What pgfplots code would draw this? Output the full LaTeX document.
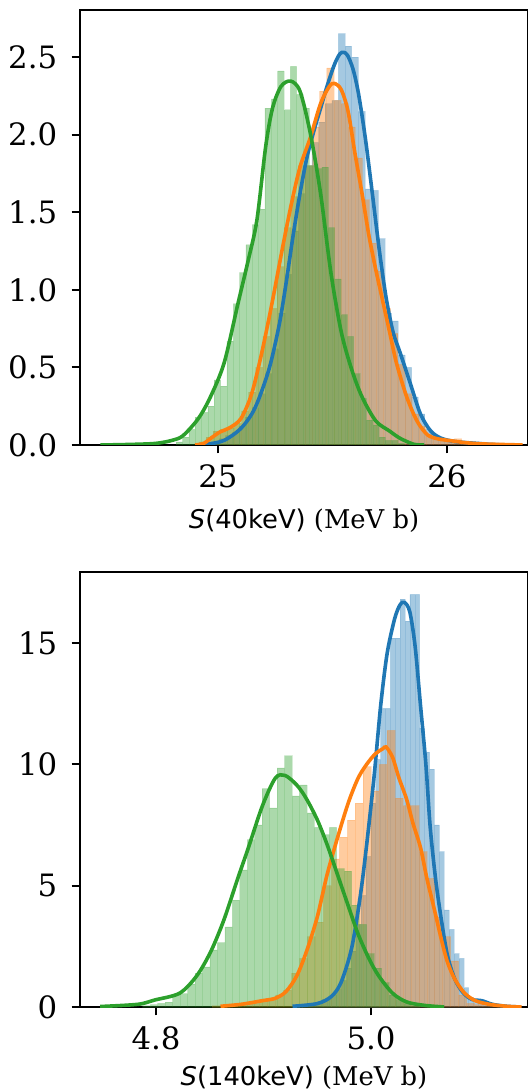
\documentclass[border=0pt]{standalone}
\usepackage{fontspec}
\setmainfont{DejaVu Serif}
\newfontfamily\dvsans{DejaVu Sans}
\usepackage{pgfplots}
\pgfplotsset{compat=1.18}
\definecolor{c0}{RGB}{31,119,180}
\definecolor{c1}{RGB}{255,127,14}
\definecolor{c2}{RGB}{44,160,44}
\pgfplotsset{
  distax/.style={
    scale only axis, width=224pt, height=217.5pt,
    tick align=outside, major tick length=4.2pt,
    tick style={line width=0.95pt, black},
    axis line style={line width=0.95pt},
    tick pos=left,
    ticklabel style={font=\fontsize{15.4}{18}\selectfont},
    xticklabel style={inner sep=0pt, anchor=north, yshift=-5.5pt},
    yticklabel style={inner sep=0pt, anchor=east, xshift=-7pt},
    label style={font=\fontsize{12.9}{15}\selectfont},
    xlabel style={at={(axis description cs:0.5,0)}, anchor=base},
  },
  hist/.style={ybar interval, fill=#1, fill opacity=0.4, draw=#1, draw opacity=0.15, line width=0.3pt},
  kde/.style={smooth, line width=1.8pt, color=#1, mark=none},
}
\begin{document}
\begin{tikzpicture}
\useasboundingbox (0,0) rectangle (264pt,546pt);

% S(40keV)
\begin{axis}[distax, at={(40pt,323.5pt)}, anchor=south west,
  xmin=24.3974, xmax=26.3537, ymin=0, ymax=2.803,
  xtick={25,26}, xticklabels={25,26},
  ytick={0,0.5,1,1.5,2,2.5}, yticklabels={0.0,0.5,1.0,1.5,2.0,2.5},
  xlabel style={yshift=-42pt},
  xlabel={{\dvsans\itshape S}{\dvsans(40keV)} (MeV b)}]
% histograms (patches sit below the lines)
\addplot[hist=c0] coordinates {
 (24.946,0.01) (24.975,0.02) (25.004,0.04) (25.033,0.06) (25.062,0.08) (25.091,0.12)
 (25.120,0.18) (25.149,0.24) (25.178,0.33) (25.207,0.46) (25.236,0.62) (25.265,0.85)
 (25.294,1.10) (25.323,1.38) (25.352,1.62) (25.381,1.80) (25.410,1.95) (25.439,2.08)
 (25.468,2.20) (25.497,2.22) (25.526,2.65) (25.555,2.57) (25.584,2.50) (25.613,2.15)
 (25.642,1.65) (25.671,1.64) (25.700,1.33) (25.729,0.85) (25.758,0.80) (25.787,0.58)
 (25.816,0.50) (25.845,0.31) (25.874,0.20) (25.903,0.10) (25.932,0.06) (25.961,0.04)
 (25.990,0.03) (26.019,0.02) (26.048,0.01) (26.077,0.01) (26.106,0.01) (26.135,0.02)
 (26.164,0.01) (26.193,0)};
\addplot[hist=c1] coordinates {
 (24.917,0.02) (24.948,0.05) (24.979,0.09) (25.010,0.10) (25.041,0.11) (25.072,0.14)
 (25.103,0.22) (25.134,0.34) (25.165,0.50) (25.196,0.70) (25.227,0.88) (25.258,1.15)
 (25.289,1.40) (25.320,1.60) (25.351,1.80) (25.382,1.80) (25.413,2.05) (25.444,2.28)
 (25.475,2.43) (25.506,2.22) (25.537,2.20) (25.568,2.05) (25.599,1.85) (25.630,1.58)
 (25.661,1.30) (25.692,1.12) (25.723,0.88) (25.754,0.72) (25.785,0.52) (25.816,0.33)
 (25.847,0.20) (25.878,0.12) (25.909,0.07) (25.940,0.05) (25.971,0.04) (26.002,0.03)
 (26.033,0.04) (26.064,0.02) (26.095,0.01) (26.126,0.01) (26.157,0.01) (26.188,0.005)
 (26.219,0)};
\addplot[hist=c2] coordinates {
 (24.817,0.02) (24.845,0.05) (24.873,0.10) (24.900,0.18) (24.928,0.21) (24.956,0.25)
 (24.983,0.42) (25.011,0.38) (25.039,0.67) (25.067,0.91) (25.094,1.11) (25.122,1.29)
 (25.150,1.42) (25.177,1.52) (25.205,2.17) (25.233,2.23) (25.260,2.41) (25.288,2.16)
 (25.316,2.44) (25.343,2.26) (25.371,2.17) (25.399,1.80) (25.426,1.78) (25.454,1.79)
 (25.482,1.40) (25.509,1.07) (25.537,0.84) (25.565,0.70) (25.592,0.46) (25.620,0.30)
 (25.648,0.16) (25.676,0.13) (25.703,0.05) (25.731,0.03) (25.759,0.03) (25.786,0.01)
 (25.814,0)};
% kde curves
\addplot[kde=c0] coordinates {
 (24.90,0) (24.952,0.005) (25.027,0.03) (25.102,0.11) (25.162,0.24) (25.223,0.49)
 (25.268,0.78) (25.298,1.05) (25.328,1.35) (25.358,1.62) (25.388,1.85) (25.418,2.02)
 (25.448,2.17) (25.478,2.32) (25.508,2.45) (25.532,2.52) (25.549,2.53) (25.566,2.51)
 (25.590,2.42) (25.614,2.26) (25.644,1.97) (25.674,1.62) (25.704,1.26) (25.734,0.95)
 (25.764,0.73) (25.794,0.60) (25.839,0.40) (25.884,0.20) (25.929,0.09) (25.974,0.044)
 (26.035,0.022) (26.125,0.011) (26.185,0.004) (26.25,0)};
\addplot[kde=c1] coordinates {
 (24.90,0) (24.937,0.01) (24.97,0.045) (25.01,0.085) (25.05,0.11) (25.10,0.17)
 (25.147,0.33) (25.192,0.60) (25.238,0.93) (25.283,1.28) (25.32,1.55) (25.358,1.79)
 (25.403,1.98) (25.448,2.20) (25.486,2.31) (25.508,2.33) (25.538,2.29) (25.568,2.15)
 (25.598,1.88) (25.629,1.62) (25.659,1.35) (25.689,1.13) (25.719,0.93) (25.749,0.73)
 (25.779,0.53) (25.824,0.31) (25.869,0.155) (25.914,0.066) (25.959,0.04) (26.02,0.027)
 (26.08,0.015) (26.155,0.007) (26.33,0)};
\addplot[kde=c2] coordinates {
 (24.486,0) (24.60,0.003) (24.726,0.01) (24.80,0.03) (24.847,0.06) (24.914,0.17)
 (24.967,0.31) (25.027,0.53) (25.087,0.91) (25.132,1.19) (25.17,1.45) (25.208,1.92)
 (25.238,2.17) (25.275,2.31) (25.317,2.345) (25.358,2.28) (25.403,2.01) (25.448,1.62)
 (25.493,1.11) (25.538,0.73) (25.583,0.49) (25.629,0.31) (25.689,0.155) (25.749,0.09)
 (25.794,0.044) (25.854,0.005) (25.9,0)};
\end{axis}

% S(140keV)
\begin{axis}[distax, at={(40pt,42.5pt)}, anchor=south west,
  xmin=4.7293, xmax=5.1460, ymin=0, ymax=17.92,
  xtick={4.8,5.0}, xticklabels={4.8,5.0},
  ytick={0,5,10,15}, yticklabels={0,5,10,15},
  xlabel style={yshift=-39pt},
  xlabel={{\dvsans\itshape S}{\dvsans(140keV)} (MeV b)}]
\addplot[hist=c0] coordinates {
 (4.9361,0.1) (4.9407,0.1) (4.9452,0.15) (4.9498,0.2) (4.9543,0.3) (4.9589,0.35)
 (4.9634,0.5) (4.9680,0.75) (4.9725,1.1) (4.9771,1.6) (4.9816,2.3) (4.9862,3.4)
 (4.9907,4.6) (4.9953,6.2) (4.9998,8.4) (5.0044,10.2) (5.0089,12.3) (5.0135,12.3)
 (5.0180,15.2) (5.0226,15.2) (5.0271,16.8) (5.0317,15.9) (5.0362,17.0) (5.0408,17.0)
 (5.0453,11.5) (5.0499,10.5) (5.0544,9.8) (5.0590,7.5) (5.0635,6.4) (5.0681,4.0)
 (5.0726,3.2) (5.0772,2.2) (5.0817,2.0) (5.0863,0.8) (5.0908,0.4) (5.0954,0.3)
 (5.0999,0.3) (5.1045,0.25) (5.1090,0.1) (5.1136,0.05) (5.1181,0.03) (5.1227,0)};
\addplot[hist=c1] coordinates {
 (4.8520,0.05) (4.8595,0.05) (4.8669,0.1) (4.8743,0.1) (4.8817,0.15) (4.8891,0.2)
 (4.8965,0.3) (4.9039,0.35) (4.9113,0.5) (4.9187,0.7) (4.9261,1.4) (4.9335,2.0)
 (4.9409,2.9) (4.9483,3.5) (4.9557,5.0) (4.9631,6.1) (4.9705,7.0) (4.9779,7.7)
 (4.9853,8.4) (4.9927,9.9) (5.0001,8.9) (5.0075,10.0) (5.0149,11.4) (5.0223,8.6)
 (5.0297,8.3) (5.0371,8.3) (5.0445,6.4) (5.0519,5.3) (5.0593,3.7) (5.0667,2.9)
 (5.0741,1.9) (5.0815,0.5) (5.0889,0.15) (5.0963,0.1) (5.1037,0.05) (5.1111,0.03)
 (5.1185,0)};
\addplot[hist=c2] coordinates {
 (4.7877,0.05) (4.7947,0.1) (4.8016,0.15) (4.8085,0.2) (4.8155,0.5) (4.8224,0.55)
 (4.8293,0.95) (4.8363,1.4) (4.8432,1.65) (4.8502,2.35) (4.8571,2.65) (4.8640,3.3)
 (4.8710,4.4) (4.8779,5.65) (4.8849,6.9) (4.8918,7.5) (4.8987,9.0) (4.9057,8.2)
 (4.9126,9.85) (4.9196,10.35) (4.9265,8.7) (4.9334,9.15) (4.9404,8.0) (4.9473,7.4)
 (4.9542,7.1) (4.9612,7.4) (4.9681,5.7) (4.9751,5.6) (4.9820,4.2) (4.9889,3.4)
 (4.9959,2.2) (5.0028,1.6) (5.0098,1.0) (5.0167,0.5) (5.0236,0.3) (5.0306,0.15)
 (5.0375,0.05) (5.0445,0)};
\addplot[kde=c0] coordinates {
 (4.927,0.03) (4.950,0.14) (4.963,0.43) (4.972,1.0) (4.982,2.43) (4.990,4.57)
 (4.996,6.71) (5.003,9.57) (5.009,12.43) (5.015,14.57) (5.022,16.0) (5.027,16.57)
 (5.031,16.67) (5.036,16.29) (5.041,14.86) (5.046,12.43) (5.051,10.0) (5.055,7.43)
 (5.060,5.29) (5.065,3.71) (5.071,2.14) (5.078,1.14) (5.086,0.57) (5.094,0.31)
 (5.103,0.26) (5.113,0.11) (5.126,0.03) (5.139,0)};
\addplot[kde=c1] coordinates {
 (4.860,0.03) (4.879,0.11) (4.899,0.26) (4.911,0.36) (4.921,0.64) (4.931,1.29)
 (4.940,2.29) (4.950,3.71) (4.959,5.43) (4.969,7.0) (4.979,8.43) (4.988,9.43)
 (4.996,10.0) (5.004,10.43) (5.011,10.64) (5.014,10.71) (5.020,10.29) (5.026,9.43)
 (5.033,8.57) (5.039,7.57) (5.046,6.57) (5.052,5.29) (5.059,4.0) (5.065,2.86)
 (5.071,1.86) (5.078,1.14) (5.087,0.57) (5.097,0.26) (5.110,0.11) (5.126,0.03)
 (5.140,0)};
\addplot[kde=c2] coordinates {
 (4.748,0.02) (4.783,0.11) (4.799,0.29) (4.822,0.57) (4.838,1.29) (4.851,2.29)
 (4.863,3.57) (4.876,5.29) (4.886,6.57) (4.899,8.29) (4.911,9.43) (4.920,9.54)
 (4.931,9.14) (4.940,8.57) (4.950,7.71) (4.959,6.71) (4.969,5.43) (4.979,4.14)
 (4.988,3.0) (4.998,2.0) (5.007,1.29) (5.020,0.57) (5.033,0.21) (5.049,0.07)
 (5.068,0)};
\end{axis}
\end{tikzpicture}
\end{document}
